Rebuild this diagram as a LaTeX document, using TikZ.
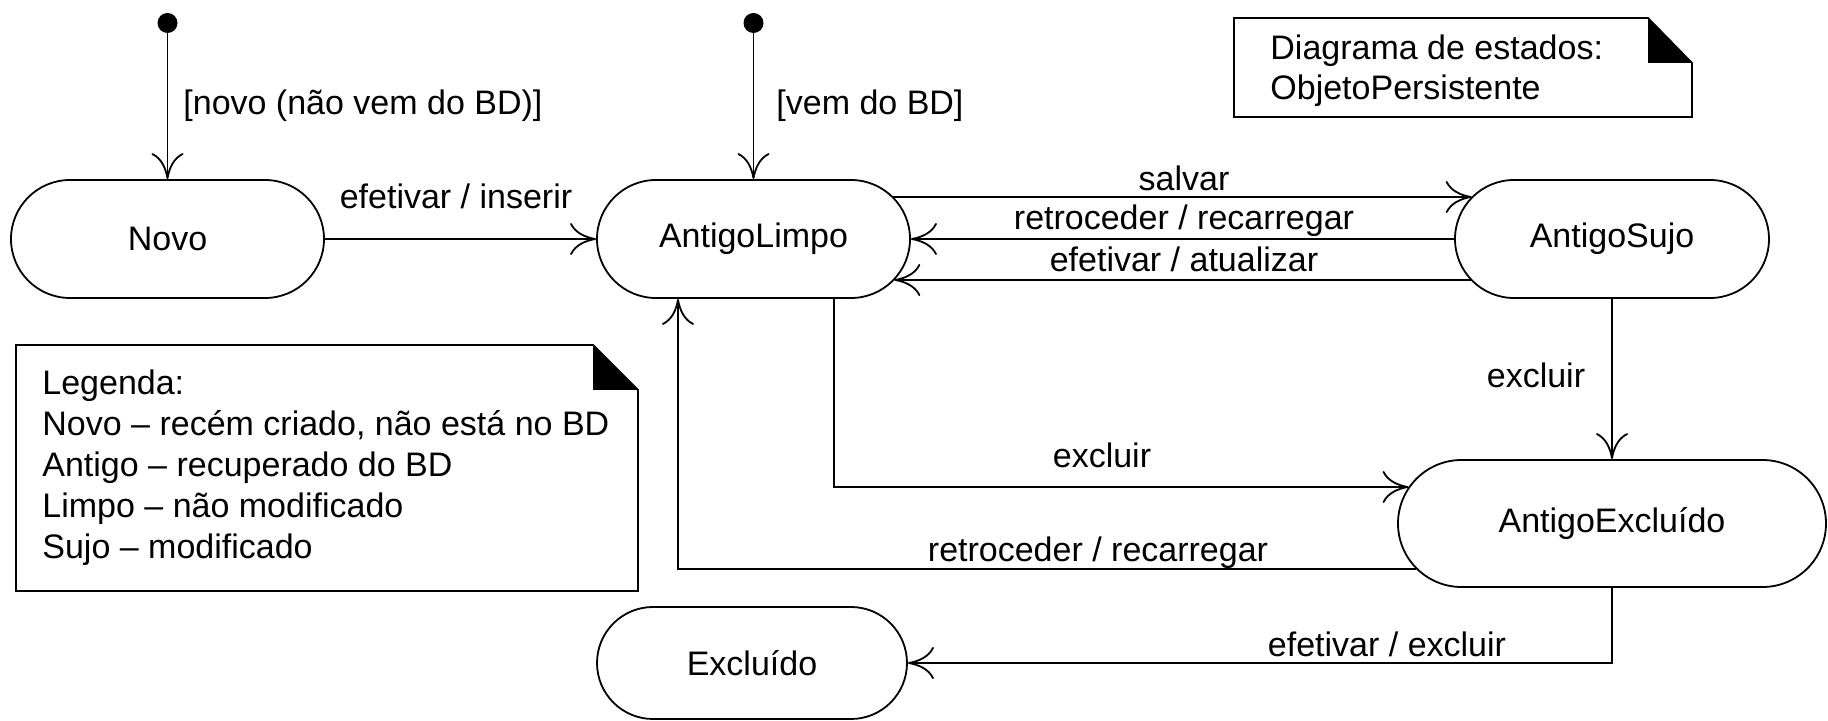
\documentclass[tikz,border=0pt]{standalone}
\usepackage{fontspec}
\setmainfont{Liberation Sans}
\usetikzlibrary{arrows.meta,calc,shapes.misc}
\begin{document}
\begin{tikzpicture}[x=0.5pt,y=-0.5pt,
  every node/.style={font=\fontsize{17pt}{20.5pt}\selectfont},
  state/.style={draw, line width=0.9pt, rounded rectangle, minimum height=59pt, inner sep=0pt, fill=white},
  arr/.style={line width=0.9pt, -{To[length=13pt,width=16pt]}},
  lbl/.style={anchor=base, inner sep=0pt},
  lblw/.style={anchor=base west, inner sep=0pt},
  initdot/.style={circle, fill=black, inner sep=0pt, minimum size=10pt},
  notebox/.style={line width=0.9pt}
]
\useasboundingbox (0,0) rectangle (1828,721);

% states
\node[state, minimum width=156.5pt] (N) at (167.5,239) {Novo};
\node[state, minimum width=156.5pt] (AL) at (753.5,239) {AntigoLimpo};
\node[state, minimum width=157pt] (AS) at (1612,239) {AntigoSujo};
\node[state, minimum width=214pt, minimum height=63.5pt] (AE) at (1612,523.5) {AntigoExcluído};
\node[state, minimum width=155pt, minimum height=56pt] (EX) at (752,663) {Excluído};

% initial pseudo-states
\node[initdot] (i1) at (167.5,23) {};
\node[initdot] (i2) at (753.5,23) {};
\draw[arr] (i1) -- (N.north);
\draw[arr] (i2) -- (AL.north);
\node[lblw] (g1) at (183,115) {[novo (não vem do BD)]};
\node[lblw] (g2) at (776,115) {[vem do BD]};

% transitions
\draw[arr] (N.east) -- (AL.west);
\node[lbl] (l1) at (456,209) {efetivar / inserir};

\draw[arr] ($(AL.east)+(-17.6,-42)$) -- ($(AS.west)+(17.6,-42)$);
\node[lbl] (l2) at (1184,191) {salvar};

\draw[arr] (AS.west) -- (AL.east);
\node[lbl] (l3) at (1184,230) {retroceder / recarregar};

\draw[arr] ($(AS.west)+(16.6,41)$) -- ($(AL.east)+(-16.6,41)$);
\node[lbl] (l4) at (1184,272) {efetivar / atualizar};

\draw[arr] (AS.south) -- (AE.north);
\node[lbl] (l5) at (1536,388) {excluir};

\draw[arr] ($(AL.south)+(80.5,0)$) |- ($(AE.west)+(11.5,-36.5)$);
\node[lbl] (l6) at (1102,468) {excluir};

\draw[arr] ($(AE.west)+(19.2,45.5)$) -| ($(AL.south)+(-75.5,0)$);
\node[lbl] (l7) at (1098,562) {retroceder / recarregar};

\draw[arr] (AE.south) |- (EX.east);
\node[lbl] (l8) at (1387,657) {efetivar / excluir};

% note: diagram title
\draw[notebox] (1234,18) -- (1648,18) -- (1692,63) -- (1692,117) -- (1234,117) -- cycle;
\fill (1648,18) -- (1692,63) -- (1648,63) -- cycle;
\node[lblw] (t1) at (1270,60) {Diagrama de estados:};
\node[lblw] (t2) at (1270,100) {ObjetoPersistente};

% note: legend
\draw[notebox] (16,345) -- (593,345) -- (638,390) -- (638,591) -- (16,591) -- cycle;
\fill (593,345) -- (638,390) -- (593,390) -- cycle;
\node[lblw] (k1) at (42,395) {Legenda:};
\node[lblw] (k2) at (42,436) {Novo – recém criado, não está no BD};
\node[lblw] (k3) at (42,477) {Antigo – recuperado do BD};
\node[lblw] (k4) at (42,518) {Limpo – não modificado};
\node[lblw] (k5) at (42,559) {Sujo – modificado};
\end{tikzpicture}
\end{document}
